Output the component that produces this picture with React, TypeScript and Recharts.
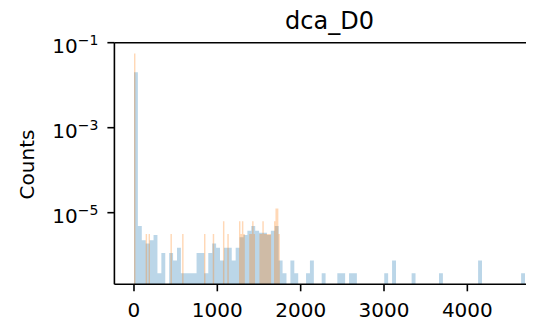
import { ComposedChart, Area, XAxis, YAxis, ReferenceLine } from "recharts";

// histogram bins: counts per bin, density of a single count
const BLUE_START = 0;
const BLUE_WIDTH = 46.92;
const BLUE_UNIT = 3.75e-7;
const blueCounts = [
  53900, 13, 6, 5, 6, 8, 1, 3, 0, 3,
  2, 4, 1, 1, 1, 1, 3, 3, 1, 3,
  5, 4, 2, 4, 4, 2, 4, 7, 8, 10,
  13, 10, 9, 9, 8, 10, 13, 2, 1, 0,
  2, 1, 0, 0, 1, 2, 0, 0, 1, 0,
  0, 0, 1, 1, 0, 1, 1, 0, 0, 0,
  0, 0, 0, 0, 1, 0, 2, 0, 0, 0,
  0, 1, 0, 0, 0, 0, 0, 0, 1, 0,
  0, 0, 0, 0, 0, 0, 0, 0, 2, 0,
  0, 0, 0, 0, 0, 0, 0, 0, 0, 1,
];

const ORANGE_START = 0;
const ORANGE_WIDTH = 17.5;
const ORANGE_UNIT = 3.15e-6;
const orangeCounts = [
  17780, 0, 0, 0, 0, 0, 0, 0, 1, 0,
  1, 0, 0, 0, 0, 0, 0, 0, 0, 0,
  0, 0, 0, 0, 0, 1, 0, 0, 0, 0,
  0, 0, 0, 1, 0, 0, 0, 0, 0, 0,
  0, 0, 0, 0, 0, 0, 0, 0, 1, 0,
  0, 0, 0, 0, 1, 0, 0, 0, 0, 0,
  0, 2, 0, 0, 1, 0, 0, 0, 0, 0,
  0, 0, 2, 1, 2, 1, 0, 0, 0, 1,
  1, 2, 1, 0, 0, 0, 1, 1, 2, 1,
  1, 1, 1, 1, 0, 0, 2, 4, 4, 1,
];

const xTicks = [0, 1000, 2000, 3000, 4000];
const yTicks = [1e-1, 1e-3, 1e-5];
const yTickExp = ["−1", "−3", "−5"];

const X_DOMAIN: [number, number] = [-235, 4927];
const Y_MIN = 2.065e-7;
const Y_MAX = 0.1;

const FONT = "'DejaVu Sans', sans-serif";

function valueAt(counts: number[], start: number, width: number, unit: number, x: number) {
  const i = Math.floor((x - start) / width + 1e-9);
  if (i < 0 || i >= counts.length || counts[i] === 0) return Y_MIN;
  return counts[i] * unit;
}

// step table on the union of both sets of bin edges
const edgeSet = new Set<number>();
for (let k = 0; k <= blueCounts.length; k++) edgeSet.add(Math.round((BLUE_START + k * BLUE_WIDTH) * 1000) / 1000);
for (let k = 0; k <= orangeCounts.length; k++) edgeSet.add(Math.round((ORANGE_START + k * ORANGE_WIDTH) * 1000) / 1000);
const rows = Array.from(edgeSet)
  .sort((a, b) => a - b)
  .map((x) => ({
    x,
    blue: valueAt(blueCounts, BLUE_START, BLUE_WIDTH, BLUE_UNIT, x),
    orange: valueAt(orangeCounts, ORANGE_START, ORANGE_WIDTH, ORANGE_UNIT, x),
  }));

const XTick = (props: any) => {
  const { x, y, payload } = props;
  return (
    <text x={x} y={y} dy="0.75em" textAnchor="middle" fontSize={20} fontFamily={FONT} fill="#000">
      {payload.value}
    </text>
  );
};

const YTick = (props: any) => {
  const { x, y, payload } = props;
  const idx = yTicks.findIndex((t) => Math.abs(Math.log10(t) - Math.log10(payload.value)) < 1e-6);
  return (
    <text x={x} y={y + 10} textAnchor="end" fontSize={20} fontFamily={FONT} fill="#000">
      <tspan>10</tspan>
      <tspan dy={-7.5} fontSize={14}>
        {yTickExp[idx] ?? ""}
      </tspan>
    </text>
  );
};

export default function App() {
  return (
    <div
      style={{
        position: "relative",
        marginLeft: -8,
        marginTop: -8,
        width: 534,
        height: 321,
        overflow: "hidden",
        background: "#fff",
      }}
    >
      <ComposedChart
        width={560}
        height={321}
        data={rows}
        margin={{ top: 42.7, right: 15.4, bottom: 0, left: 0 }}
      >
        <XAxis
          dataKey="x"
          type="number"
          domain={X_DOMAIN}
          allowDataOverflow
          ticks={xTicks}
          height={36.7}
          tickSize={7}
          tickMargin={11}
          tick={XTick}
          axisLine={{ stroke: "#000", strokeWidth: 1.6 }}
          tickLine={{ stroke: "#000", strokeWidth: 1.6 }}
        />
        <YAxis
          type="number"
          scale="log"
          domain={[Y_MIN, Y_MAX]}
          allowDataOverflow
          ticks={yTicks}
          width={114.4}
          tickSize={7}
          tickMargin={9}
          tick={YTick}
          axisLine={{ stroke: "#000", strokeWidth: 1.6 }}
          tickLine={{ stroke: "#000", strokeWidth: 1.6 }}
        />
        <Area
          type="stepAfter"
          dataKey="blue"
          baseValue={Y_MIN}
          stroke="none"
          fill="#1f77b4"
          fillOpacity={0.3}
          dot={false}
          activeDot={false}
          isAnimationActive={false}
        />
        <Area
          type="stepAfter"
          dataKey="orange"
          baseValue={Y_MIN}
          stroke="none"
          fill="#ff7f0e"
          fillOpacity={0.3}
          dot={false}
          activeDot={false}
          isAnimationActive={false}
        />
        <ReferenceLine y={Y_MAX} stroke="#000" strokeWidth={1.6} />
      </ComposedChart>
      <svg
        width={534}
        height={321}
        style={{ position: "absolute", left: 0, top: 0, pointerEvents: "none" }}
      >
        <text x={329.5} y={29} textAnchor="middle" fontSize={24} fontFamily={FONT} fill="#000">
          dca_D0
        </text>
        <text
          x={33.5}
          y={164.5}
          textAnchor="middle"
          fontSize={20}
          fontFamily={FONT}
          fill="#000"
          transform="rotate(-90, 33.5, 164.5)"
        >
          Counts
        </text>
      </svg>
    </div>
  );
}
